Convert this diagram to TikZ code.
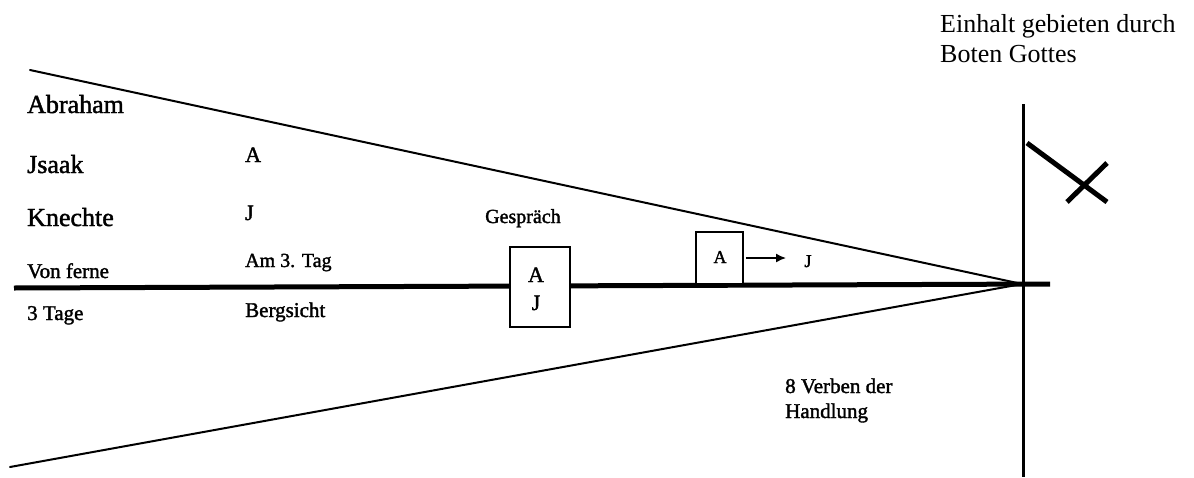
\documentclass[tikz,border=0pt]{standalone}
\usepackage{fontspec}
\setmainfont{Liberation Serif}
\newfontfamily\scan[FakeBold=1.6]{Liberation Serif}
\usetikzlibrary{arrows.meta}
\tikzset{
  lbl/.style={anchor=base west, inner sep=0pt, font=\scan\fontsize{#1}{#1}\selectfont},
  lbl/.default=22,
  ctr/.style={anchor=base, inner sep=0pt, font=\scan\fontsize{#1}{#1}\selectfont},
  ctr/.default=22,
  thin line/.style={line width=2pt, line cap=round},
  box/.style={draw, line width=1.5pt, fill=white}
}
\begin{document}
\begin{tikzpicture}[x=1pt, y=-1pt]
\useasboundingbox[fill=white] (0,0) rectangle (1194,477);
% key points
\coordinate (apex) at (1022,284);
\coordinate (topl) at (30,70);
\coordinate (botl) at (10,467);
\coordinate (mainl) at (14,288);
\coordinate (mainr) at (1050,284);
\coordinate (vtop) at (1023,104);
\coordinate (vbot) at (1023,477);
% cone
\draw[thin line] (topl) -- (apex);
\draw[thin line] (botl) -- (apex);
\draw[line width=5pt] (mainl) -- (mainr);
\draw[line width=3pt] (vtop) -- (vbot);
% flag
\coordinate (f1) at (1027,143);
\coordinate (f2) at (1107,202);
\coordinate (f3) at (1067,202);
\coordinate (f4) at (1107,163);
\draw[line width=5pt] (f1) -- (f2);
\draw[line width=5pt] (f3) -- (f4);
% boxes
\node[box, minimum width=60pt, minimum height=80pt, inner sep=0pt] (aj) at (540,287) {};
\node[ctr=22] (ajA) at (536,282) {A};
\node[ctr=22] (ajJ) at (536,310) {J};
\node[box, minimum width=47pt, minimum height=52pt, inner sep=0pt] (ba) at (719.5,258) {};
\node[ctr=18] (baA) at (720,263) {A};
\node[ctr=18] (jr) at (808,267) {J};
\coordinate (arre) at (786,258);
\draw[line width=1.5pt, shorten <=2pt, -{Latex[length=10pt,width=9pt]}] (ba.east) -- (arre);
% left column
\node[lbl=26] (abr) at (27,113) {Abraham};
\node[lbl=26] (jsa) at (27,173) {Jsaak};
\node[lbl=26] (kne) at (27,226) {Knechte};
\node[lbl=21] (von) at (27,278) {Von ferne};
\node[lbl=21] (tag3) at (27,320) {3 Tage};
% second column
\node[lbl=22] (ca) at (245,162) {A};
\node[lbl=22] (cj) at (245,220) {J};
\node[lbl=20] (am3) at (245,267) {Am 3. Tag};
\node[lbl=21] (berg) at (245,317) {Bergsicht};
\node[lbl=20] (ges) at (485,223) {Gespräch};
\node[lbl=21] (verb) at (785,393) {8 Verben der};
\node[lbl=21] (hand) at (785,418) {Handlung};
% top right
\node[anchor=base west, inner sep=0pt, font=\fontsize{26}{26}\selectfont] (ein) at (940,32) {Einhalt gebieten durch};
\node[anchor=base west, inner sep=0pt, font=\fontsize{26}{26}\selectfont] (bot) at (940,62) {Boten Gottes};
\end{tikzpicture}
\end{document}
